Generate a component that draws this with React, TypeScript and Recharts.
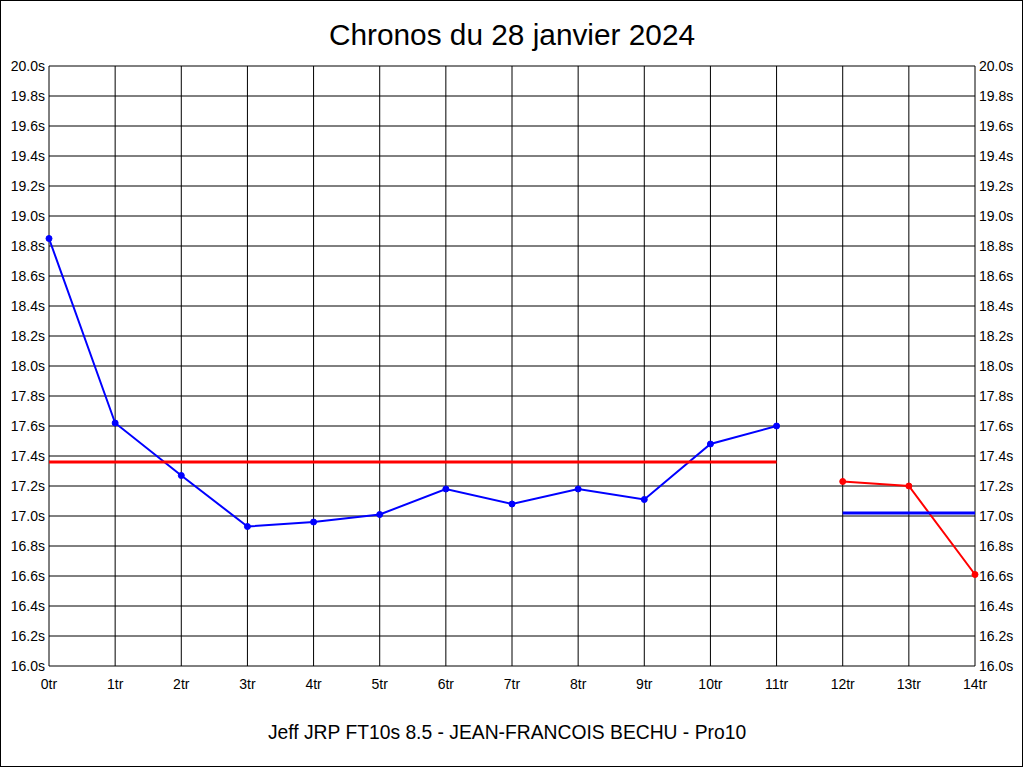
import React from 'react';
import { LineChart, Line, XAxis, YAxis, CartesianGrid } from 'recharts';

const categories = ['0tr', '1tr', '2tr', '3tr', '4tr', '5tr', '6tr', '7tr', '8tr', '9tr', '10tr', '11tr', '12tr', '13tr', '14tr'];
const mainTimes = [18.85, 17.62, 17.27, 16.93, 16.96, 17.01, 17.18, 17.08, 17.18, 17.11, 17.48, 17.6];
const finalTimes = [17.23, 17.2, 16.61];
const finalStart = 12;
const mainAverage = 17.36;
const finalAverage = 17.02;
const yTicks = [16.0, 16.2, 16.4, 16.6, 16.8, 17.0, 17.2, 17.4, 17.6, 17.8, 18.0, 18.2, 18.4, 18.6, 18.8, 19.0, 19.2, 19.4, 19.6, 19.8, 20.0];
const title = 'Chronos du 28 janvier 2024';
const subtitle = 'Jeff JRP FT10s 8.5 - JEAN-FRANCOIS BECHU - Pro10';

const data = categories.map((name, i) => ({
  name,
  main: i < mainTimes.length ? mainTimes[i] : null,
  final: i >= finalStart ? finalTimes[i - finalStart] : null,
  mainAvg: i < mainTimes.length ? mainAverage : null,
  finalAvg: i >= finalStart ? finalAverage : null,
}));

const FONT = '"Liberation Sans", Arial, sans-serif';
const tickStyle = { fontSize: 14, fill: '#000', fontFamily: FONT };
const fmt = (v: number) => `${v.toFixed(1)}s`;

export default function App() {
  return (
    <div style={{ position: 'absolute', left: 0, top: 0, width: 1024, height: 768, background: '#fff' }}>
      <LineChart width={1024} height={768} data={data} margin={{ top: 66, right: 0, bottom: 0, left: 0 }}>
        <CartesianGrid yAxisId="left" stroke="#000" strokeWidth={1} horizontal vertical />
        <XAxis
          dataKey="name"
          height={102}
          interval={0}
          tickLine={false}
          axisLine={false}
          tickSize={0}
          tickMargin={13}
          tick={tickStyle}
        />
        <YAxis
          yAxisId="left"
          orientation="left"
          width={49}
          domain={[16, 20]}
          ticks={yTicks}
          allowDataOverflow
          interval={0}
          tickLine={false}
          axisLine={false}
          tickSize={4}
          tickMargin={0}
          tick={tickStyle}
          tickFormatter={fmt}
        />
        <YAxis
          yAxisId="right"
          orientation="right"
          width={49}
          domain={[16, 20]}
          ticks={yTicks}
          allowDataOverflow
          interval={0}
          tickLine={false}
          axisLine={false}
          tickSize={4}
          tickMargin={0}
          tick={tickStyle}
          tickFormatter={fmt}
        />
        <Line yAxisId="left" type="linear" dataKey="main" stroke="#0000ff" strokeWidth={2}
          dot={{ r: 3, fill: '#0000ff', stroke: '#0000ff', strokeWidth: 1 }} isAnimationActive={false} />
        <Line yAxisId="left" type="linear" dataKey="final" stroke="#ff0000" strokeWidth={2}
          dot={{ r: 3, fill: '#ff0000', stroke: '#ff0000', strokeWidth: 1 }} isAnimationActive={false} />
        <Line yAxisId="left" type="linear" dataKey="mainAvg" stroke="#ff0000" strokeWidth={3} dot={false} isAnimationActive={false} />
        <Line yAxisId="left" type="linear" dataKey="finalAvg" stroke="#0000ff" strokeWidth={3} dot={false} isAnimationActive={false} />
      </LineChart>
      <svg width={1024} height={768} style={{ position: 'absolute', left: 0, top: 0, pointerEvents: 'none' }}>
        <rect x={0.5} y={0.5} width={1022} height={766} fill="none" stroke="#000" strokeWidth={1} />
        <text x={512} y={45} textAnchor="middle" fontFamily={FONT} fontSize={29.8} fill="#000">{title}</text>
        <text x={507} y={739} textAnchor="middle" fontFamily={FONT} fontSize={19.3} fill="#000">{subtitle}</text>
      </svg>
    </div>
  );
}
